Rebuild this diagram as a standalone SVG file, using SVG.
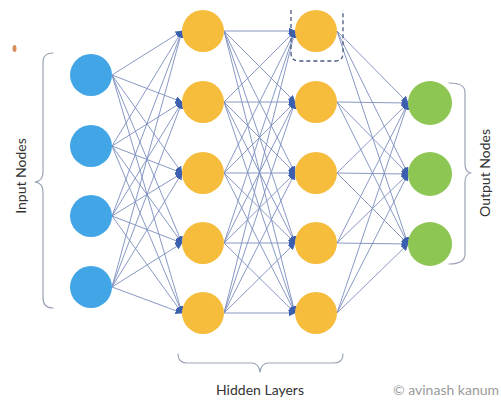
<svg xmlns="http://www.w3.org/2000/svg" width="501" height="401" viewBox="0 0 501 401">
  <style>
    .edge { stroke: #7b8dbd; stroke-width: 0.9; fill: none; marker-end: url(#tip); }
    .in { fill: #42a6e6; }
    .hid { fill: #f6bc3c; }
    .out { fill: #8dc653; }
    .brace { fill: none; stroke: #9aa3b5; stroke-width: 1.2; stroke-linecap: round; stroke-linejoin: round; }
    .label { font-family: Lato, "Open Sans", sans-serif; font-size: 14px; fill: #333; }
    .credit { font-family: Lato, "Open Sans", sans-serif; font-size: 14px; fill: #9a9a9a; }
  </style>
  <defs>
    <marker id="tip" markerUnits="userSpaceOnUse" markerWidth="7" markerHeight="7" refX="6.5" refY="3.5" orient="auto">
      <path d="M0,0 L7,3.5 L0,7 z" fill="#3b5fae"/>
    </marker>
  </defs>
  <rect width="501" height="401" fill="#ffffff"/>

  <!-- small orange mark at top left -->
  <ellipse cx="14.5" cy="48.5" rx="2" ry="3.5" fill="#cf7a3e" opacity="0.85"/>

  <!-- connectors -->
  <g id="connectors">
    <!-- input -> hidden 1 -->
    <line class="edge" x1="112" y1="75" x2="182" y2="31"/>
    <line class="edge" x1="112" y1="75" x2="182" y2="102"/>
    <line class="edge" x1="112" y1="75" x2="182" y2="173"/>
    <line class="edge" x1="112" y1="75" x2="182" y2="243"/>
    <line class="edge" x1="112" y1="75" x2="182" y2="313"/>
    <line class="edge" x1="112" y1="146" x2="182" y2="31"/>
    <line class="edge" x1="112" y1="146" x2="182" y2="102"/>
    <line class="edge" x1="112" y1="146" x2="182" y2="173"/>
    <line class="edge" x1="112" y1="146" x2="182" y2="243"/>
    <line class="edge" x1="112" y1="146" x2="182" y2="313"/>
    <line class="edge" x1="112" y1="216" x2="182" y2="31"/>
    <line class="edge" x1="112" y1="216" x2="182" y2="102"/>
    <line class="edge" x1="112" y1="216" x2="182" y2="173"/>
    <line class="edge" x1="112" y1="216" x2="182" y2="243"/>
    <line class="edge" x1="112" y1="216" x2="182" y2="313"/>
    <line class="edge" x1="112" y1="287" x2="182" y2="31"/>
    <line class="edge" x1="112" y1="287" x2="182" y2="102"/>
    <line class="edge" x1="112" y1="287" x2="182" y2="173"/>
    <line class="edge" x1="112" y1="287" x2="182" y2="243"/>
    <line class="edge" x1="112" y1="287" x2="182" y2="313"/>
    <!-- hidden 1 -> hidden 2 -->
    <line class="edge" x1="224" y1="31" x2="295" y2="31"/>
    <line class="edge" x1="224" y1="31" x2="295" y2="102"/>
    <line class="edge" x1="224" y1="31" x2="295" y2="173"/>
    <line class="edge" x1="224" y1="31" x2="295" y2="243"/>
    <line class="edge" x1="224" y1="31" x2="295" y2="313"/>
    <line class="edge" x1="224" y1="102" x2="295" y2="31"/>
    <line class="edge" x1="224" y1="102" x2="295" y2="102"/>
    <line class="edge" x1="224" y1="102" x2="295" y2="173"/>
    <line class="edge" x1="224" y1="102" x2="295" y2="243"/>
    <line class="edge" x1="224" y1="102" x2="295" y2="313"/>
    <line class="edge" x1="224" y1="173" x2="295" y2="31"/>
    <line class="edge" x1="224" y1="173" x2="295" y2="102"/>
    <line class="edge" x1="224" y1="173" x2="295" y2="173"/>
    <line class="edge" x1="224" y1="173" x2="295" y2="243"/>
    <line class="edge" x1="224" y1="173" x2="295" y2="313"/>
    <line class="edge" x1="224" y1="243" x2="295" y2="31"/>
    <line class="edge" x1="224" y1="243" x2="295" y2="102"/>
    <line class="edge" x1="224" y1="243" x2="295" y2="173"/>
    <line class="edge" x1="224" y1="243" x2="295" y2="243"/>
    <line class="edge" x1="224" y1="243" x2="295" y2="313"/>
    <line class="edge" x1="224" y1="313" x2="295" y2="31"/>
    <line class="edge" x1="224" y1="313" x2="295" y2="102"/>
    <line class="edge" x1="224" y1="313" x2="295" y2="173"/>
    <line class="edge" x1="224" y1="313" x2="295" y2="243"/>
    <line class="edge" x1="224" y1="313" x2="295" y2="313"/>
    <!-- hidden 2 -> output -->
    <line class="edge" x1="337" y1="31" x2="408" y2="103"/>
    <line class="edge" x1="337" y1="31" x2="408" y2="174"/>
    <line class="edge" x1="337" y1="31" x2="408" y2="244"/>
    <line class="edge" x1="337" y1="102" x2="408" y2="103"/>
    <line class="edge" x1="337" y1="102" x2="408" y2="174"/>
    <line class="edge" x1="337" y1="102" x2="408" y2="244"/>
    <line class="edge" x1="337" y1="173" x2="408" y2="103"/>
    <line class="edge" x1="337" y1="173" x2="408" y2="174"/>
    <line class="edge" x1="337" y1="173" x2="408" y2="244"/>
    <line class="edge" x1="337" y1="243" x2="408" y2="103"/>
    <line class="edge" x1="337" y1="243" x2="408" y2="174"/>
    <line class="edge" x1="337" y1="243" x2="408" y2="244"/>
    <line class="edge" x1="337" y1="313" x2="408" y2="103"/>
    <line class="edge" x1="337" y1="313" x2="408" y2="174"/>
    <line class="edge" x1="337" y1="313" x2="408" y2="244"/>
  </g>

  <!-- input layer -->
  <g id="input-1"><circle class="in" cx="91" cy="75" r="21"/></g>
  <g id="input-2"><circle class="in" cx="91" cy="146" r="21"/></g>
  <g id="input-3"><circle class="in" cx="91" cy="216" r="21"/></g>
  <g id="input-4"><circle class="in" cx="91" cy="287" r="21"/></g>

  <!-- first hidden layer -->
  <g id="hidden1-1"><circle class="hid" cx="203" cy="31" r="21"/></g>
  <g id="hidden1-2"><circle class="hid" cx="203" cy="102" r="21"/></g>
  <g id="hidden1-3"><circle class="hid" cx="203" cy="173" r="21"/></g>
  <g id="hidden1-4"><circle class="hid" cx="203" cy="243" r="21"/></g>
  <g id="hidden1-5"><circle class="hid" cx="203" cy="313" r="21"/></g>

  <!-- second hidden layer; the top node is outlined with a dashed frame -->
  <g id="hidden2-1">
    <circle class="hid" cx="316" cy="31" r="21"/>
    <path d="M291,10 L291,53 Q291,61 299,61 L335,61 Q343,61 343,53 L343,10" fill="none" stroke="#4a5a80" stroke-width="1.3" stroke-dasharray="4,3"/>
  </g>
  <g id="hidden2-2"><circle class="hid" cx="316" cy="102" r="21"/></g>
  <g id="hidden2-3"><circle class="hid" cx="316" cy="173" r="21"/></g>
  <g id="hidden2-4"><circle class="hid" cx="316" cy="243" r="21"/></g>
  <g id="hidden2-5"><circle class="hid" cx="316" cy="313" r="21"/></g>

  <!-- output layer -->
  <g id="output-1"><circle class="out" cx="430" cy="103" r="22"/></g>
  <g id="output-2"><circle class="out" cx="430" cy="174" r="22"/></g>
  <g id="output-3"><circle class="out" cx="430" cy="244" r="22"/></g>

  <!-- braces and labels -->
  <g id="input-label">
    <path class="brace" d="M53,53 Q43,53 43,62 L43,172 Q43,181 35,182 Q43,183 43,192 L43,298 Q43,308 53,308"/>
    <text class="label" transform="translate(26,176) rotate(-90)" text-anchor="middle">Input Nodes</text>
  </g>
  <g id="output-label">
    <path class="brace" d="M449,83 Q465,83 465,92 L465,164 Q465,172 471,173 Q465,174 465,182 L465,254 Q465,264 449,264"/>
    <text class="label" transform="translate(490,173) rotate(-90)" text-anchor="middle">Output Nodes</text>
  </g>
  <g id="hidden-label">
    <path class="brace" d="M178,354 Q178,363 187,363 L251,363 Q259,363 260,372 Q261,363 269,363 L334,363 Q343,363 343,354"/>
    <text class="label" x="260" y="395" text-anchor="middle">Hidden Layers</text>
  </g>
  <text class="credit" x="393" y="395">© avinash kanum</text>
</svg>
